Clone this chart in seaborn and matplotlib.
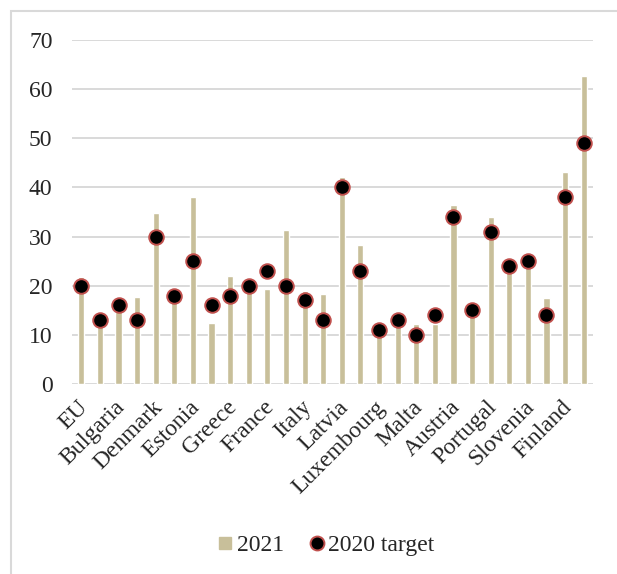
import matplotlib
matplotlib.use("Agg")
import matplotlib.pyplot as plt
from matplotlib.lines import Line2D
from matplotlib.patches import Rectangle
from matplotlib.transforms import ScaledTranslation
import seaborn as sns
import pandas as pd

countries = ["EU", "Belgium", "Bulgaria", "Czechia", "Denmark", "Germany", "Estonia",
             "Ireland", "Greece", "Spain", "France", "Croatia", "Italy", "Cyprus",
             "Latvia", "Lithuania", "Luxembourg", "Hungary", "Malta", "Netherlands",
             "Austria", "Poland", "Portugal", "Romania", "Slovenia", "Slovakia",
             "Finland", "Sweden"]
share_2021 = [21.8, 13.0, 17.0, 17.7, 34.7, 19.2, 38.0, 12.5, 21.9, 20.7, 19.3, 31.3,
              19.0, 18.4, 42.1, 28.2, 11.7, 14.1, 12.2, 12.3, 36.4, 15.6, 34.0, 24.1,
              25.0, 17.4, 43.1, 62.6]
target_2020 = [20, 13, 16, 13, 30, 18, 25, 16, 18, 20, 23, 20, 17, 13, 40, 23, 11, 13,
               10, 14, 34, 15, 31, 24, 25, 14, 38, 49]
y_ticks = [0, 10, 20, 30, 40, 50, 60, 70]

df = pd.DataFrame({"country": countries, "2021": share_2021, "2020 target": target_2020})

bar_color = "#C8BF9A"
grid_color = "#D9D9D9"
edge_red = "#C0504D"

sns.set_style("white")
plt.rcParams["font.family"] = ["Liberation Serif", "DejaVu Serif"]
plt.rcParams["font.size"] = 17

fig = plt.figure(figsize=(6.17, 5.74), dpi=100)
ax = fig.add_axes([72 / 617, 1 - 384 / 574, (593 - 72) / 617, (384 - 40) / 574])

sns.barplot(data=df, x="country", y="2021", color=bar_color, width=0.33,
            saturation=1, ax=ax, zorder=2)
sns.scatterplot(data=df, x="country", y="2020 target", color="black", s=110,
                edgecolor=edge_red, linewidth=1.4, ax=ax, zorder=3, legend=False)

ax.set_ylim(0, 70)
ax.set_xlim(-0.5, len(countries) - 0.5)
ax.set_yticks(y_ticks)
ax.yaxis.grid(True, color=grid_color, linewidth=1.4, zorder=0)
ax.set_axisbelow(True)
for s in ax.spines.values():
    s.set_visible(False)
ax.set_xlabel("")
ax.set_ylabel("")

ax.set_xticks(range(0, len(countries), 2))
ax.set_xticklabels(countries[::2], rotation=45, ha="right", rotation_mode="anchor")
ax.tick_params(axis="x", length=0, pad=9)
ax.tick_params(axis="y", length=0, pad=14)
shift = ScaledTranslation(-4 / 100, 0, fig.dpi_scale_trans)
for lbl in ax.get_xticklabels():
    lbl.set_transform(lbl.get_transform() + shift)

handles = [
    Line2D([], [], marker="s", linestyle="none", markersize=9,
           markerfacecolor=bar_color, markeredgecolor=bar_color),
    Line2D([], [], marker="o", linestyle="none", markersize=10,
           markerfacecolor="black", markeredgecolor=edge_red, markeredgewidth=1.4),
]
fig.legend(handles, ["2021", "2020 target"], loc="center", ncol=2,
           bbox_to_anchor=(325 / 617, 1 - 545 / 574), frameon=False,
           handletextpad=0.1, columnspacing=1.0, handlelength=0.8)

fig.patches.append(Rectangle((11 / 617, -0.1), 1.2, 1.1 - 11 / 574,
                             transform=fig.transFigure, fill=False,
                             edgecolor=grid_color, linewidth=1.5, zorder=0))

fig.savefig("out.png", dpi=100, facecolor="white")
